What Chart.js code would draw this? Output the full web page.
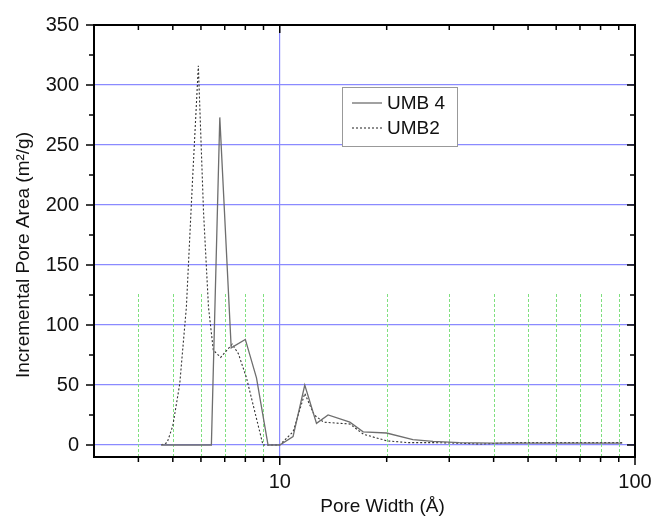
<!DOCTYPE html>
<html>
<head>
<meta charset="utf-8">
<title>Incremental Pore Area</title>
<script src="https://cdn.jsdelivr.net/npm/chart.js@4.4.1/dist/chart.umd.min.js"></script>
<style>
    body { margin: 0; background: #fff; }
    #wrap { width: 654px; height: 517px; }
</style>
</head>
<body>
<div id="wrap"><canvas id="poreChart"></canvas></div>
<script>
// pore width (Å) and incremental pore area (m²/g) for each sample
const poreWidthUmb4 = [4.64, 6.42, 6.78, 7.3, 8.0, 8.6, 9.27, 10.0, 10.9, 11.76, 12.69, 13.68, 15.75, 17.17, 19.98, 23.7, 27, 32, 40, 50, 60, 70, 80, 92];
const areaUmb4 = [0, 0, 273, 81, 88, 56, 0, 0, 7, 50, 18, 25, 19, 11, 10, 4.5, 3, 2, 1.5, 1.5, 1.5, 1.5, 1.5, 1.5];

const poreWidthUmb2 = [4.64, 4.82, 5.0, 5.23, 5.46, 5.68, 5.9, 6.1, 6.3, 6.5, 6.82, 7.35, 7.65, 8.06, 8.97, 10.0, 10.9, 11.76, 12.5, 13.3, 15.75, 17.2, 20, 23, 27, 32, 37, 45, 55, 65, 75, 85, 92];
const areaUmb2 = [0, 2, 16, 51, 115, 220, 316, 195, 115, 79, 73, 84, 76, 56, 0, 0, 11, 43, 25, 19, 17.5, 9, 3.5, 2, 2, 1.5, 0.8, 2, 2, 2, 2, 2, 2];

const xTickLabels = [10, 100];
const xMinorTicks = [4, 5, 6, 7, 8, 9, 20, 30, 40, 50, 60, 70, 80, 90];
const yTickLabels = [0, 50, 100, 150, 200, 250, 300, 350];
const yMinorTicks = [25, 75, 125, 175, 225, 275, 325];
const minorLineTop = 126;

const FONT = 'Liberation Sans, Arial, sans-serif';
const GRID_BLUE = '#8a8aff';

const toPoints = (xs, ys) => xs.map((x, i) => ({ x: x, y: ys[i] }));

// frame, inward/outward ticks, minor green lines, titles and the boxed legend
const framePlugin = {
    id: 'frame',
    beforeDatasetsDraw(chart) {
        const ctx = chart.ctx;
        const xs = chart.scales.x;
        const ys = chart.scales.y;
        const yTop = ys.getPixelForValue(minorLineTop);
        ctx.save();
        ctx.strokeStyle = '#7fe07f';
        ctx.lineWidth = 1;
        ctx.setLineDash([3, 2]);
        xMinorTicks.forEach(v => {
            const px = Math.round(xs.getPixelForValue(v)) + 0.5;
            ctx.beginPath();
            ctx.moveTo(px, chart.chartArea.bottom);
            ctx.lineTo(px, yTop);
            ctx.stroke();
        });
        ctx.restore();
    },
    afterDraw(chart) {
        const ctx = chart.ctx;
        const { left, right, top, bottom } = chart.chartArea;
        const xs = chart.scales.x;
        const ys = chart.scales.y;

        ctx.save();
        ctx.strokeStyle = '#000';
        ctx.lineWidth = 2;
        ctx.strokeRect(left, top, right - left, bottom - top);

        const tick = (x1, y1, x2, y2) => {
            ctx.beginPath();
            ctx.moveTo(x1, y1);
            ctx.lineTo(x2, y2);
            ctx.stroke();
        };
        ctx.lineWidth = 1.5;
        const xMarks = xTickLabels.map(v => [v, 8]).concat(xMinorTicks.map(v => [v, 5]));
        xMarks.forEach(([v, len]) => {
            const px = xs.getPixelForValue(v);
            tick(px, bottom, px, bottom + len);
            tick(px, top, px, top + len);
        });
        const yMarks = yTickLabels.map(v => [v, 8]).concat(yMinorTicks.map(v => [v, 5]));
        yMarks.forEach(([v, len]) => {
            const py = ys.getPixelForValue(v);
            tick(left - len, py, left, py);
            tick(right - len, py, right, py);
        });

        // axis titles
        ctx.fillStyle = '#111';
        ctx.font = '19px ' + FONT;
        ctx.textAlign = 'center';
        ctx.textBaseline = 'middle';
        ctx.fillText('Pore Width (Å)', (left + right) / 2 + 18, 507);
        ctx.save();
        ctx.translate(24, (top + bottom) / 2 + 14);
        ctx.rotate(-Math.PI / 2);
        ctx.fillText('Incremental Pore Area (m²/g)', 0, 0);
        ctx.restore();

        // legend box
        const bx = left + 248;
        const by = top + 62;
        ctx.fillStyle = '#fff';
        ctx.fillRect(bx, by, 115, 59);
        ctx.strokeStyle = '#999';
        ctx.lineWidth = 1;
        ctx.strokeRect(bx + 0.5, by + 0.5, 115, 59);
        chart.data.datasets.forEach((ds, i) => {
            const ry = by + 16 + i * 25;
            ctx.strokeStyle = ds.borderColor;
            ctx.lineWidth = ds.borderWidth;
            ctx.setLineDash(ds.borderDash || []);
            tick(bx + 10, ry, bx + 40, ry);
            ctx.setLineDash([]);
            ctx.fillStyle = '#111';
            ctx.textAlign = 'left';
            ctx.fillText(ds.label, bx + 45, ry + 1);
        });
        ctx.restore();
    }
};

new Chart(document.getElementById('poreChart'), {
    type: 'line',
    data: {
        datasets: [{
            label: 'UMB 4',
            data: toPoints(poreWidthUmb4, areaUmb4),
            borderColor: '#6e6e6e',
            borderWidth: 1.3,
            pointRadius: 0,
            tension: 0,
            fill: false
        }, {
            label: 'UMB2',
            data: toPoints(poreWidthUmb2, areaUmb2),
            borderColor: '#333',
            borderWidth: 1.1,
            borderDash: [2, 2],
            pointRadius: 0,
            tension: 0,
            fill: false
        }]
    },
    options: {
        responsive: true,
        maintainAspectRatio: false,
        animation: false,
        layout: { padding: { top: 25, right: 19, left: 0, bottom: 0 } },
        plugins: {
            legend: { display: false },
            tooltip: { enabled: false }
        },
        scales: {
            x: {
                type: 'logarithmic',
                min: 3,
                max: 100,
                border: { display: false },
                grid: {
                    drawTicks: false,
                    lineWidth: 1.2,
                    color: c => (c.tick && c.tick.value === 10) ? GRID_BLUE : 'transparent'
                },
                ticks: {
                    autoSkip: false,
                    maxRotation: 0,
                    padding: 13,
                    color: '#111',
                    font: { family: FONT, size: 20 },
                    callback: value => xTickLabels.includes(value) ? String(value) : ''
                },
                afterFit: s => { s.height = 60; s.paddingLeft = 0; s.paddingRight = 0; }
            },
            y: {
                min: -10,
                max: 350,
                border: { display: false },
                grid: {
                    drawTicks: false,
                    lineWidth: 1.2,
                    color: c => (c.tick && c.tick.value >= 0 && c.tick.value < 350) ? GRID_BLUE : 'transparent'
                },
                ticks: {
                    stepSize: 50,
                    includeBounds: false,
                    padding: 15,
                    color: '#111',
                    font: { family: FONT, size: 20 },
                    callback: value => yTickLabels.includes(value) ? String(value) : ''
                },
                afterFit: s => { s.width = 94; s.paddingTop = 0; s.paddingBottom = 0; }
            }
        }
    },
    plugins: [framePlugin]
});
</script>
</body>
</html>
